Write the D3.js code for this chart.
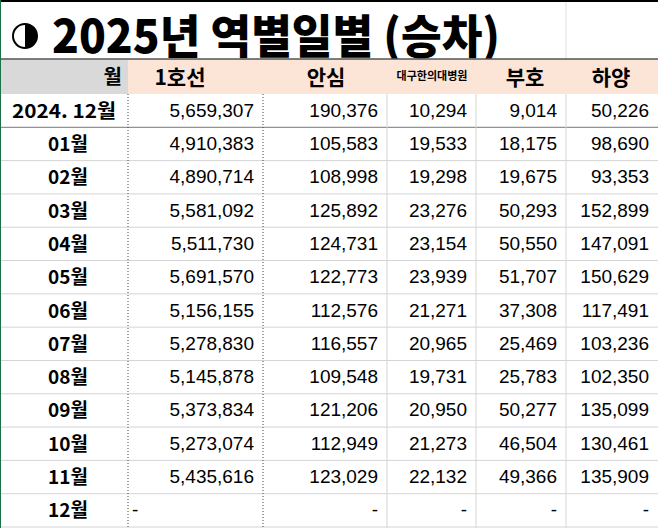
<!DOCTYPE html>
<html><head><meta charset="utf-8">
<script src="https://cdn.jsdelivr.net/npm/d3@7"></script>
<style>body{margin:0;background:#fff}</style>
</head><body><div id="canvas"></div>
<script>
var width = 658, height = 528;

var title = "2025년 역별일별 (승차)";
var stations = ["1호선", "안심", "대구한의대병원", "부호", "하양"];
var months = ["2024. 12월", "01월", "02월", "03월", "04월", "05월", "06월", "07월", "08월", "09월", "10월", "11월", "12월"];
var line1 = [5659307, 4910383, 4890714, 5581092, 5511730, 5691570, 5156155, 5278830, 5145878, 5373834, 5273074, 5435616, null];
var ansim = [190376, 105583, 108998, 125892, 124731, 122773, 112576, 116557, 109548, 121206, 112949, 123029, null];
var hospital = [10294, 19533, 19298, 23276, 23154, 23939, 21271, 20965, 19731, 20950, 21273, 22132, null];
var buho = [9014, 18175, 19675, 50293, 50550, 51707, 37308, 25469, 25783, 50277, 46504, 49366, null];
var hayang = [50226, 98690, 93353, 152899, 147091, 150629, 117491, 103236, 102350, 135099, 130461, 135909, null];
var series = [line1, ansim, hospital, buho, hayang];

var svg = d3.select("#canvas").append("svg").attr("width", width).attr("height", height);

var edges = [0, 128, 263, 387, 476, 566, 658];
var yScale = d3.scaleBand().domain(months).range([94, 527]);
var fmt = d3.format(",");

// title
svg.append("circle").attr("cx", 25).attr("cy", 36).attr("r", 12).attr("fill", "#fff").attr("stroke", "#000").attr("stroke-width", 2);
svg.append("path").attr("d", d3.arc()({innerRadius: 0, outerRadius: 12, startAngle: 0, endAngle: Math.PI})).attr("transform", "translate(25,36)");
svg.append("text").attr("x", 52).attr("y", 53)
    .attr("font-family", "Noto Sans CJK KR").attr("font-weight", 900).attr("font-size", 46)
    .attr("textLength", 448).attr("lengthAdjust", "spacingAndGlyphs")
    .text(title);
svg.append("line").attr("x1", 566).attr("x2", 566).attr("y1", 0).attr("y2", 59).attr("stroke", "#e0e0e0");
svg.append("line").attr("x1", 0).attr("x2", width).attr("y1", 1).attr("y2", 1).attr("stroke", "#000").attr("stroke-width", 2);

// header
svg.append("rect").attr("x", 0).attr("y", 59).attr("width", 128).attr("height", 35).attr("fill", "#d9d9d9");
svg.append("rect").attr("x", 128).attr("y", 59).attr("width", 530).attr("height", 35).attr("fill", "#fce4d6");
svg.append("line").attr("x1", 0).attr("x2", width).attr("y1", 59).attr("y2", 59).attr("stroke", "#555").attr("stroke-width", 1.5);
svg.append("text").attr("x", 122).attr("y", 84).attr("text-anchor", "end")
    .attr("font-family", "Noto Sans CJK KR").attr("font-weight", 700).attr("font-size", 20).text("월");
stations.forEach(function (s, i) {
    var cx = [180, 326, 432, 525, 611][i];
    svg.append("text").attr("x", cx).attr("y", s.length > 4 ? 80 : 85).attr("text-anchor", "middle")
        .attr("font-family", "Noto Sans CJK KR").attr("font-weight", 700)
        .attr("font-size", s.length > 4 ? 11 : 21).text(s);
});

// grid
months.forEach(function (m) {
    var y = yScale(m) + yScale.bandwidth();
    svg.append("line").attr("x1", 0).attr("x2", width).attr("y1", y).attr("y2", y)
        .attr("stroke", m === months[0] ? "#777" : "#d4d4d4");
});
edges.slice(1, -1).forEach(function (x, i) {
    svg.append("line").attr("x1", x).attr("x2", x).attr("y1", 94).attr("y2", height)
        .attr("stroke", i < 2 ? "#444" : "#d4d4d4").attr("stroke-dasharray", i < 2 ? "1,2" : null);
});
svg.append("line").attr("x1", 0.5).attr("x2", 0.5).attr("y1", 0).attr("y2", height).attr("stroke", "#1e7145");

// rows
months.forEach(function (m, r) {
    var cy = yScale(m) + yScale.bandwidth() / 2 + 7;
    svg.append("text").attr("x", r === 0 ? 64 : 68).attr("y", cy).attr("text-anchor", "middle")
        .attr("font-family", "Noto Sans CJK KR").attr("font-weight", 700).attr("font-size", 19)
        .attr("textLength", r === 0 ? 104 : null).attr("lengthAdjust", "spacingAndGlyphs").text(m);
    series.forEach(function (vals, c) {
        var v = vals[r];
        var t = svg.append("text").attr("y", cy - 1)
            .attr("font-family", "Liberation Sans, Arial").attr("font-size", 19);
        if (v == null && c === 0) t.attr("x", 132).text("-");
        else t.attr("x", edges[c + 2] - 9).attr("text-anchor", "end").text(v == null ? "-" : fmt(v));
    });
});
</script></body></html>
